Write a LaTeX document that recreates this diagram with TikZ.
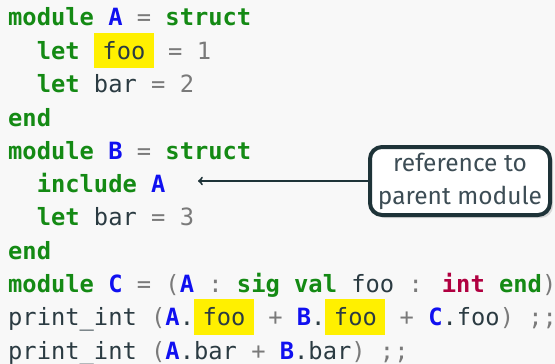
\documentclass[tikz,border=0pt]{standalone}
\usepackage{fontspec}
\usetikzlibrary{arrows,shadows}
\newfontfamily\codefont{DejaVu Sans Mono}
\newfontfamily\notefont{Fira Sans}
\definecolor{bg}{HTML}{F8F8F8}
\definecolor{kwgreen}{HTML}{148A14}
\definecolor{modblue}{HTML}{1010F0}
\definecolor{tyred}{HTML}{B00040}
\definecolor{txt}{HTML}{2B3B42}
\definecolor{opgray}{HTML}{7A7A7A}
\definecolor{hly}{HTML}{FFF000}
\definecolor{boxdark}{HTML}{1E3338}
\definecolor{notetxt}{HTML}{3D4D55}
\newcommand\kw[1]{\textcolor{kwgreen}{\bfseries #1}}
\newcommand\md[1]{\textcolor{modblue}{\bfseries #1}}
\newcommand\op[1]{\textcolor{opgray}{#1}}
\newcommand\ty[1]{\textcolor{tyred}{\bfseries #1}}
\newcommand\hlw[1]{{\setlength{\fboxsep}{8.5pt}\colorbox{hly}{#1}}}
\tikzset{ln/.style={anchor=base west,inner sep=0pt,text=txt,font=\codefont\fontsize{23.75}{33}\selectfont},
            cb/.style={draw=boxdark,line width=4pt,rounded corners=12pt,fill=white,align=center,
              minimum width=180pt,minimum height=68pt,inner sep=0pt,text=notetxt,
              font=\notefont\fontsize{24.5}{33}\selectfont,
              drop shadow={shadow xshift=3pt,shadow yshift=-3pt,fill=gray!55}}}

\begin{document}
\begin{tikzpicture}[x=1pt,y=1pt]
\fill[bg] (0,0) rectangle (555,-364);
\useasboundingbox (0,0) rectangle (555,-364);
\node[ln] at (8,-26)(l1){\kw{module} \md{A} \op{=} \kw{struct}};
\node[ln] at (8,-59.3)(l2){\ \ \kw{let} \hlw{foo} \op{=} \op{1}};
\node[ln] at (8,-92.6)(l3){\ \ \kw{let} bar \op{=} \op{2}};
\node[ln] at (8,-126)(l4){\kw{end}};
\node[ln] at (8,-159.2)(l5){\kw{module} \md{B} \op{=} \kw{struct}};
\node[ln] at (8,-192.5)(l6){\ \ \kw{include} \md{A}};
\node[ln] at (8,-225.8)(l7){\ \ \kw{let} bar \op{=} \op{3}};
\node[ln] at (8,-259)(l8){\kw{end}};
\node[ln] at (8,-292.4)(l9){\kw{module} \md{C} \op{=} \op{(}\md{A} \op{:} \kw{sig} \kw{val} foo \op{:} \ty{int} \kw{end}\op{)}};
\node[ln] at (8,-325.7)(l10){print\_int \op{(}\md{A}.\hlw{foo} \op{+} \md{B}.\hlw{foo} \op{+} \md{C}.foo\op{)} \op{;;}};
\node[ln] at (8,-359)(l11){print\_int \op{(}\md{A}.bar \op{+} \md{B}.bar\op{)} \op{;;}};
\node[cb] at (460,-181)(note){reference to\\parent module};
\coordinate (tip) at (198,-181);
\draw[->, line width=2pt, boxdark] (note) -- (tip);
\end{tikzpicture}
\end{document}
